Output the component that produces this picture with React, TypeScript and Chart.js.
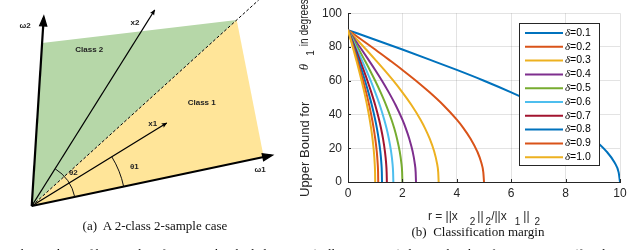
import React, { useEffect, useRef } from "react";
import { Chart, registerables } from "chart.js";

Chart.register(...registerables);
Chart.defaults.font.family = '"Liberation Sans", Arial, sans-serif';

// ---------------- Panel (b): classification margin ----------------
const deltaValues = ["0.1", "0.2", "0.3", "0.4", "0.5", "0.6", "0.7", "0.8", "0.9", "1.0"];
const lineColors = ["#0072BD", "#D95319", "#EDB120", "#7E2F8E", "#77AC30", "#4DBEEE", "#A2142F", "#0072BD", "#D95319", "#EDB120"];
const xTicks = [0, 2, 4, 6, 8, 10];
const yTicks = [0, 20, 40, 60, 80, 100];
// upper bound for theta_1 (degrees)
const thetaBound = [90, 84.3, 78.5, 72.5, 66.4, 60, 53.1, 45.6, 36.9, 31.8, 25.8, 18.2, 11.5, 5.7, 0];
// r values of each curve at those angles
const rDelta01 = [0, 1, 2, 3, 4, 5, 6, 7, 8, 8.5, 9, 9.5, 9.8, 9.95, 10];
const rDelta02 = [0, 0.5, 1, 1.5, 2, 2.5, 3, 3.5, 4, 4.25, 4.5, 4.75, 4.9, 4.975, 5];
const rDelta03 = [0, 0.333, 0.667, 1, 1.333, 1.667, 2, 2.333, 2.667, 2.833, 3, 3.167, 3.267, 3.317, 3.333];
const rDelta04 = [0, 0.25, 0.5, 0.75, 1, 1.25, 1.5, 1.75, 2, 2.125, 2.25, 2.375, 2.45, 2.488, 2.5];
const rDelta05 = [0, 0.2, 0.4, 0.6, 0.8, 1, 1.2, 1.4, 1.6, 1.7, 1.8, 1.9, 1.96, 1.99, 2];
const rDelta06 = [0, 0.167, 0.333, 0.5, 0.667, 0.833, 1, 1.167, 1.333, 1.417, 1.5, 1.583, 1.633, 1.658, 1.667];
const rDelta07 = [0, 0.143, 0.286, 0.429, 0.571, 0.714, 0.857, 1, 1.143, 1.214, 1.286, 1.357, 1.4, 1.421, 1.429];
const rDelta08 = [0, 0.125, 0.25, 0.375, 0.5, 0.625, 0.75, 0.875, 1, 1.063, 1.125, 1.188, 1.225, 1.244, 1.25];
const rDelta09 = [0, 0.111, 0.222, 0.333, 0.444, 0.556, 0.667, 0.778, 0.889, 0.944, 1, 1.056, 1.089, 1.106, 1.111];
const rDelta10 = [0, 0.1, 0.2, 0.3, 0.4, 0.5, 0.6, 0.7, 0.8, 0.85, 0.9, 0.95, 0.98, 0.995, 1];
const rSeries = [rDelta01, rDelta02, rDelta03, rDelta04, rDelta05, rDelta06, rDelta07, rDelta08, rDelta09, rDelta10];

// ---------------- Panel (a): 2-class 2-sample diagram ----------------
const class2RegionX = [0, 10.4, 205, 0];
const class2RegionY = [0, 163, 186, 0];
const class1RegionX = [0, 232, 205, 0];
const class1RegionY = [0, 49, 186, 0];
const boundaryX = [0, 227];
const boundaryY = [0, 206];
const x1VecX = [0, 135];
const x1VecY = [0, 83];
const x2VecX = [0, 123];
const x2VecY = [0, 196];
const omega1X = [0, 239];
const omega1Y = [0, 50.5];
const omega2X = [0, 12];
const omega2Y = [0, 188];
const diagramLabels = ["ω2", "x2", "Class 2", "Class 1", "x1", "θ1", "θ2", "ω1"];
const diagramLabelX = [-6.7, 103.3, 57.6, 170, 121, 102.6, 41.6, 228.3];
const diagramLabelY = [180, 183.3, 156, 103.7, 82, 39.3, 33.3, 36.7];
const theta1Radius = 94;
const theta2Radius = 44;

const pts = (xs: number[], ys: number[]) => xs.map((x, i) => ({ x, y: ys[i] }));

const SANS = '"Liberation Sans", Arial, sans-serif';
const SERIF = '"Liberation Serif", "Times New Roman", serif';

const leftDecor = {
  id: "leftDecor",
  afterDatasetsDraw(chart: any) {
    const { ctx, scales } = chart;
    const sx = scales.x, sy = scales.y;
    const ox = sx.getPixelForValue(0), oy = sy.getPixelForValue(0);
    const unit = Math.abs(sx.getPixelForValue(1) - ox);
    ctx.save();
    // arrowheads
    chart.data.datasets.forEach((ds: any, i: number) => {
      if (!ds.arrow) return;
      const meta = chart.getDatasetMeta(i);
      const p1 = meta.data[meta.data.length - 2];
      const p2 = meta.data[meta.data.length - 1];
      const ang = Math.atan2(p2.y - p1.y, p2.x - p1.x);
      ctx.save();
      ctx.translate(p2.x, p2.y);
      ctx.rotate(ang);
      ctx.fillStyle = "#000";
      ctx.strokeStyle = "#000";
      if (ds.arrow === "big") {
        ctx.beginPath();
        ctx.moveTo(2, 0);
        ctx.lineTo(-8, -3.6);
        ctx.lineTo(-8, 3.6);
        ctx.closePath();
        ctx.lineWidth = 1.2;
        ctx.fill();
        ctx.stroke();
      } else {
        ctx.beginPath();
        ctx.moveTo(0.5, 0);
        ctx.lineTo(-5, -2.4);
        ctx.lineTo(-4, 0);
        ctx.lineTo(-5, 2.4);
        ctx.closePath();
        ctx.fill();
      }
      ctx.restore();
    });
    // angle arcs
    const angOf = (xs: number[], ys: number[]) => Math.atan2(ys[1], xs[1]);
    const a1 = angOf(omega1X, omega1Y);
    const ax1 = angOf(x1VecX, x1VecY);
    const ax2 = angOf(x2VecX, x2VecY);
    ctx.strokeStyle = "#111";
    ctx.lineWidth = 1;
    ctx.beginPath();
    ctx.arc(ox, oy, theta1Radius * unit, -ax1, -a1);
    ctx.stroke();
    ctx.beginPath();
    ctx.arc(ox, oy, theta2Radius * unit, -ax2, -a1);
    ctx.stroke();
    // labels
    ctx.fillStyle = "#222";
    ctx.font = `bold 8px ${SANS}`;
    ctx.textAlign = "center";
    ctx.textBaseline = "middle";
    diagramLabels.forEach((t, i) => {
      ctx.fillText(t, sx.getPixelForValue(diagramLabelX[i]), sy.getPixelForValue(diagramLabelY[i]));
    });
    ctx.restore();
  },
};

const rightDecor = {
  id: "rightDecor",
  afterDatasetsDraw(chart: any) {
    const { ctx, chartArea: a } = chart;
    ctx.save();
    // legend box
    const lw = 80, lh = 142;
    const lx = Math.round(a.right - 101), ly = Math.round(a.top + 10);
    ctx.fillStyle = "#fff";
    ctx.fillRect(lx, ly, lw, lh);
    ctx.strokeStyle = "#262626";
    ctx.lineWidth = 1;
    ctx.strokeRect(lx + 0.5, ly + 0.5, lw, lh);
    deltaValues.forEach((d, i) => {
      const y = ly + 10 + i * 13.8;
      ctx.strokeStyle = lineColors[i];
      ctx.lineWidth = 2;
      ctx.beginPath();
      ctx.moveTo(lx + 6, y);
      ctx.lineTo(lx + 44, y);
      ctx.stroke();
      ctx.fillStyle = "#000";
      ctx.textBaseline = "middle";
      ctx.textAlign = "left";
      ctx.font = `italic 11px ${SERIF}`;
      ctx.fillText("δ", lx + 46, y);
      const w = ctx.measureText("δ").width;
      ctx.font = `10.5px ${SANS}`;
      ctx.fillText("=" + d, lx + 46 + w, y);
    });
    ctx.restore();
  },
  afterDraw(chart: any) {
    const { ctx, chartArea: a, scales } = chart;
    ctx.save();
    // inward tick marks
    ctx.strokeStyle = "#262626";
    ctx.lineWidth = 1;
    ctx.beginPath();
    xTicks.forEach((v) => {
      const px = Math.round(scales.x.getPixelForValue(v)) + 0.5;
      ctx.moveTo(px, a.bottom);
      ctx.lineTo(px, a.bottom - 3);
    });
    yTicks.forEach((v) => {
      const py = Math.round(scales.y.getPixelForValue(v)) + 0.5;
      ctx.moveTo(a.left, py);
      ctx.lineTo(a.left + 3, py);
    });
    ctx.stroke();

    // y axis title (rotated)
    ctx.fillStyle = "#262626";
    ctx.save();
    ctx.translate(a.left - 43, 0);
    ctx.rotate(-Math.PI / 2);
    ctx.textAlign = "left";
    ctx.textBaseline = "middle";
    ctx.font = `13px ${SANS}`;
    ctx.fillText("Upper Bound for", -(a.bottom + 15), 0, 97);
    ctx.font = `italic 13px ${SERIF}`;
    ctx.fillText("θ", -(a.top + 57), 0);
    ctx.font = `10px ${SANS}`;
    ctx.fillText("1", -(a.top + 42.5), 6);
    ctx.font = `12.5px ${SANS}`;
    ctx.fillText("in degrees", -(a.top + 33), 0, 47);
    ctx.restore();

    // x axis title with subscripts
    const pieces: [string, boolean, number][] = [
      ["r = ||x", false, 0],
      ["2", true, 12],
      ["||", false, 2],
      ["2", true, 2],
      ["/||x", false, 0],
      ["1", true, 8],
      ["||", false, 3],
      ["2", true, 5],
    ];
    const mainFont = `12px ${SANS}`;
    const subFont = `10px ${SANS}`;
    let total = 0;
    pieces.forEach(([t, sub, gap]) => {
      ctx.font = sub ? subFont : mainFont;
      total += gap + ctx.measureText(t).width;
    });
    let xc = (a.left + a.right) / 2 - total / 2;
    ctx.textAlign = "left";
    ctx.textBaseline = "middle";
    pieces.forEach(([t, sub, gap]) => {
      ctx.font = sub ? subFont : mainFont;
      xc += gap;
      ctx.fillText(t, xc, a.bottom + (sub ? 40.5 : 34.7));
      xc += ctx.measureText(t).width;
    });
    ctx.restore();
  },
};

export default function App() {
  const leftRef = useRef<HTMLCanvasElement>(null);
  const rightRef = useRef<HTMLCanvasElement>(null);

  useEffect(() => {
    const lineDs = (xs: number[], ys: number[], extra: any) => ({
      data: pts(xs, ys),
      pointRadius: 0,
      tension: 0,
      fill: false,
      borderColor: "#000",
      ...extra,
    });
    const left = new Chart(leftRef.current!, {
      type: "line",
      data: {
        datasets: [
          lineDs(class2RegionX, class2RegionY, { backgroundColor: "#b6d7a8", borderColor: "rgba(0,0,0,0)", borderWidth: 1, fill: "shape", order: 10 }),
          lineDs(class1RegionX, class1RegionY, { backgroundColor: "#ffe599", borderColor: "rgba(0,0,0,0)", borderWidth: 1, fill: "shape", order: 9 }),
          lineDs(boundaryX, boundaryY, { borderWidth: 1, borderDash: [3, 2], order: 5 }),
          lineDs(x2VecX, x2VecY, { borderWidth: 1.3, arrow: "small", order: 4 }),
          lineDs(x1VecX, x1VecY, { borderWidth: 1.3, arrow: "small", order: 3 }),
          lineDs(omega1X, omega1Y, { borderWidth: 2.2, arrow: "big", order: 2 }),
          lineDs(omega2X, omega2Y, { borderWidth: 2.2, arrow: "big", order: 1 }),
        ],
      } as any,
      options: {
        responsive: false,
        animation: false,
        devicePixelRatio: 1,
        events: [],
        layout: { padding: 0 },
        plugins: { legend: { display: false }, tooltip: { enabled: false } },
        scales: {
          x: { type: "linear", min: -31.7, max: 288.3, display: false },
          y: { type: "linear", min: -44, max: 206, display: false },
        },
      },
      plugins: [leftDecor],
    });

    const right = new Chart(rightRef.current!, {
      type: "line",
      data: {
        datasets: rSeries.map((rs, i) => ({
          label: "δ=" + deltaValues[i],
          data: pts(rs, thetaBound),
          borderColor: lineColors[i],
          borderWidth: 2,
          pointRadius: 0,
          cubicInterpolationMode: "monotone",
          fill: false,
          order: rSeries.length - i,
        })),
      } as any,
      options: {
        responsive: false,
        animation: false,
        devicePixelRatio: 1,
        events: [],
        layout: { padding: { left: 0, right: 20, top: 11, bottom: 0 } },
        plugins: { legend: { display: false }, tooltip: { enabled: false } },
        scales: {
          x: {
            type: "linear",
            min: 0,
            max: 10,
            afterBuildTicks: (s: any) => { s.ticks = xTicks.map((v) => ({ value: v })); },
            afterFit: (s: any) => { s.height = 68; },
            ticks: { color: "#262626", font: { size: 12 }, padding: 4, maxRotation: 0 },
            grid: { color: "rgba(38,38,38,0.13)", drawTicks: false },
            border: { color: "#262626", width: 1 },
          },
          y: {
            type: "linear",
            min: 0,
            max: 100,
            afterBuildTicks: (s: any) => { s.ticks = yTicks.map((v) => ({ value: v })); },
            afterFit: (s: any) => { s.width = 58; },
            ticks: { color: "#262626", font: { size: 12 }, padding: 6 },
            grid: { color: "rgba(38,38,38,0.13)", drawTicks: false },
            border: { color: "#262626", width: 1 },
          },
        },
      },
      plugins: [rightDecor],
    });

    return () => {
      left.destroy();
      right.destroy();
    };
  }, []);

  return (
    <div style={{ position: "absolute", left: 0, top: 0, width: 640, height: 250, overflow: "hidden", background: "#fff" }}>
      <div style={{ position: "absolute", left: 0, top: 0, width: 320, height: 250 }}>
        <canvas ref={leftRef} width={320} height={250} />
      </div>
      <div style={{ position: "absolute", left: 290, top: 0, width: 350, height: 250 }}>
        <canvas ref={rightRef} width={350} height={250} />
      </div>
      <div style={{ position: "absolute", left: 0, top: 218, width: 310, textAlign: "center", fontFamily: SERIF, fontSize: 13, lineHeight: "15px", color: "#111", whiteSpace: "pre" }}>
        {"(a)  A 2-class 2-sample case"}
      </div>
      <div style={{ position: "absolute", left: 328, top: 223.5, width: 300, textAlign: "center", fontFamily: SERIF, fontSize: 13, lineHeight: "15px", color: "#111", whiteSpace: "pre" }}>
        {"(b)  Classification margin"}
      </div>
      <div style={{ position: "absolute", left: -36, top: 246, fontFamily: SERIF, fontSize: 13, lineHeight: "15px", color: "#111", whiteSpace: "nowrap" }}>
        {"separating hyperplane of binary classification. The shaded regions (yellow or green) denote the classification margin (for class 1 and class 2)"}
      </div>
    </div>
  );
}
